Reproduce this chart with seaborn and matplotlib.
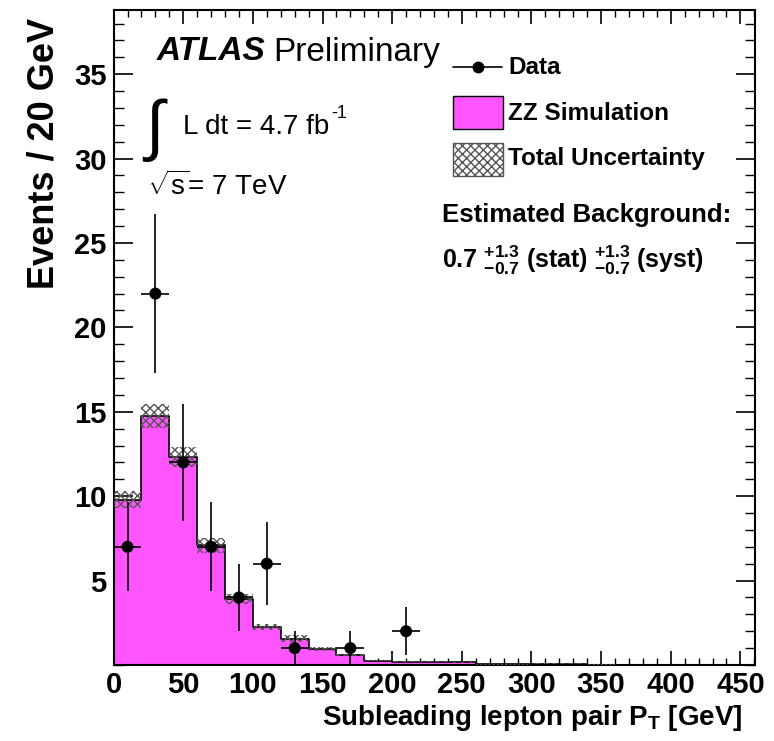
import numpy as np
import pandas as pd
import matplotlib
matplotlib.use("Agg")
import matplotlib.pyplot as plt
from matplotlib.lines import Line2D
from matplotlib.patches import Rectangle
from matplotlib.ticker import MultipleLocator
import seaborn as sns

# ---------------- data ----------------
bin_edges = [0, 20, 40, 60, 80, 100, 120, 140, 160, 180, 200, 220, 240, 260,
             280, 300, 320, 340, 360, 380, 400, 420, 440, 460]
zz_sim = [9.8, 14.75, 12.3, 7.1, 3.9, 2.27, 1.55, 0.95, 0.6, 0.25, 0.2, 0.18,
          0.15, 0.03, 0.03, 0.08, 0.08, 0.02, 0.0, 0.0, 0.0, 0.0, 0.0]
zz_unc = [0.5, 0.73, 0.6, 0.45, 0.3, 0.17, 0.2, 0.12, 0.08, 0.04, 0.03, 0.03,
          0.03, 0.01, 0.01, 0.02, 0.02, 0.01, 0.0, 0.0, 0.0, 0.0, 0.0]
data_x = [10, 30, 50, 70, 90, 110, 130, 170, 210]
data_y = [7, 22, 12, 7, 4, 6, 1, 1, 2]
data_err = [np.sqrt(v) for v in data_y]
legend_labels = ["Data", "ZZ Simulation", "Total Uncertainty"]

edges = np.array(bin_edges, dtype=float)
centers = 0.5 * (edges[:-1] + edges[1:])
widths = np.diff(edges)
mc = np.array(zz_sim)
unc = np.array(zz_unc)

sns.set_theme(style="ticks")
plt.rcParams["font.family"] = ["Liberation Sans", "DejaVu Sans"]
plt.rcParams["mathtext.fontset"] = "custom"
plt.rcParams["mathtext.rm"] = "Liberation Sans"
plt.rcParams["mathtext.bf"] = "Liberation Sans:bold"
plt.rcParams["mathtext.it"] = "Liberation Sans:italic"
plt.rcParams["hatch.linewidth"] = 1.0
for k in ["text.color", "axes.labelcolor", "xtick.color", "ytick.color",
          "axes.edgecolor"]:
    plt.rcParams[k] = "black"

W, H = 774, 741
fig = plt.figure(figsize=(W / 100, H / 100), dpi=100)
ax = fig.add_axes([113.6 / W, 1 - 665 / H, 641.4 / W, 655 / H])


def fx(px):
    return px / W


def fy(py):
    return 1 - py / H


pink = "#ff55ff"
df = pd.DataFrame({"x": centers, "w": mc})
sns.histplot(data=df, x="x", weights="w", bins=list(bin_edges), element="step",
             fill=True, color=pink, alpha=1.0, edgecolor="black", linewidth=1.2,
             ax=ax)

# uncertainty band
ax.bar(centers, 2 * unc, width=widths, bottom=mc - unc, fill=False,
       hatch="xxxx", edgecolor="#555555", linewidth=0, zorder=3)

# data
ax.errorbar(data_x, data_y, yerr=data_err, xerr=10, fmt="none",
            ecolor="black", elinewidth=1.2, capsize=0, zorder=4)
sns.scatterplot(x=data_x, y=data_y, color="black", s=75, edgecolor="none",
                zorder=5, ax=ax)

ax.set_xlim(0, 460.5)
ax.set_ylim(0, 38.8)
ax.set_xticks([0, 50, 100, 150, 200, 250, 300, 350, 400, 450])
ax.set_yticks([5, 10, 15, 20, 25, 30, 35])
ax.xaxis.set_minor_locator(MultipleLocator(10))
ax.yaxis.set_minor_locator(MultipleLocator(1))
ax.tick_params(axis="both", which="both", direction="in", top=True, right=True)
ax.tick_params(axis="y", which="major", length=14, width=1.2, labelsize=21, pad=5)
ax.tick_params(axis="y", which="minor", length=7, width=1.0)
ax.tick_params(axis="x", which="major", length=10, width=1.2, labelsize=21, pad=4)
ax.tick_params(axis="x", which="minor", length=5, width=1.0)
for lab in ax.get_xticklabels() + ax.get_yticklabels():
    lab.set_fontweight("bold")
for sp in ax.spines.values():
    sp.set_linewidth(1.5)
    sp.set_color("black")

ax.set_xlabel(r"Subleading lepton pair P$_{\mathbf{T}}$ [GeV]", fontsize=20,
              fontweight="bold", ha="right", va="center")
ax.xaxis.set_label_coords((742 - 113.6) / 641.4, -(718 - 665) / 655)
ax.set_ylabel("Events / 20 GeV", fontsize=26, fontweight="bold", ha="right",
              va="center")
ax.yaxis.set_label_coords(-(113.6 - 44) / 641.4, 1 - 8 / 655)

# annotations
fig.text(fx(157), fy(52), "ATLAS", fontsize=24, fontweight="bold",
         fontstyle="italic", va="center", ha="left")
fig.text(fx(273), fy(52), "Preliminary", fontsize=24, va="center", ha="left")
fig.text(fx(145), fy(130), "\u222b", fontsize=48, va="center", ha="left")
fig.text(fx(183), fy(127), "L dt = 4.7 fb", fontsize=20, va="center", ha="left")
fig.text(fx(331), fy(113), "-1", fontsize=13, va="center", ha="left")
fig.text(fx(147), fy(186), r"$\sqrt{\mathregular{s}}$= 7 TeV", fontsize=20,
         va="center", ha="left")

# legend (drawn by hand to follow the original layout)
fig.add_artist(Line2D([fx(453), fx(502)], [fy(67), fy(67)], color="black",
                      lw=1.2, transform=fig.transFigure))
fig.add_artist(Line2D([fx(478)], [fy(67)], color="black", marker="o",
                      markersize=7.5, lw=0, transform=fig.transFigure))
fig.add_artist(Rectangle((fx(453), fy(129)), fx(503) - fx(453), fy(96) - fy(129),
                         facecolor=pink, edgecolor="black", linewidth=1.0,
                         transform=fig.transFigure))
fig.add_artist(Rectangle((fx(453), fy(176)), fx(503) - fx(453), fy(143) - fy(176),
                         facecolor="white", edgecolor="#555555", hatch="xxxx",
                         linewidth=1.0, transform=fig.transFigure))
for lab, py in zip(legend_labels, [67, 113, 159]):
    fig.text(fx(508), fy(py), lab, fontsize=17.5, fontweight="bold",
             va="center", ha="left")

fig.text(fx(442), fy(215), "Estimated Background:", fontsize=18.5,
         fontweight="bold", ha="left", va="center")
fig.text(fx(442), fy(260),
         r"$\mathbf{0.7\ {}^{+1.3}_{-0.7}\ (stat)\ {}^{+1.3}_{-0.7}\ (syst)}$",
         fontsize=18, ha="left", va="center")

fig.savefig("out.png", dpi=100)
